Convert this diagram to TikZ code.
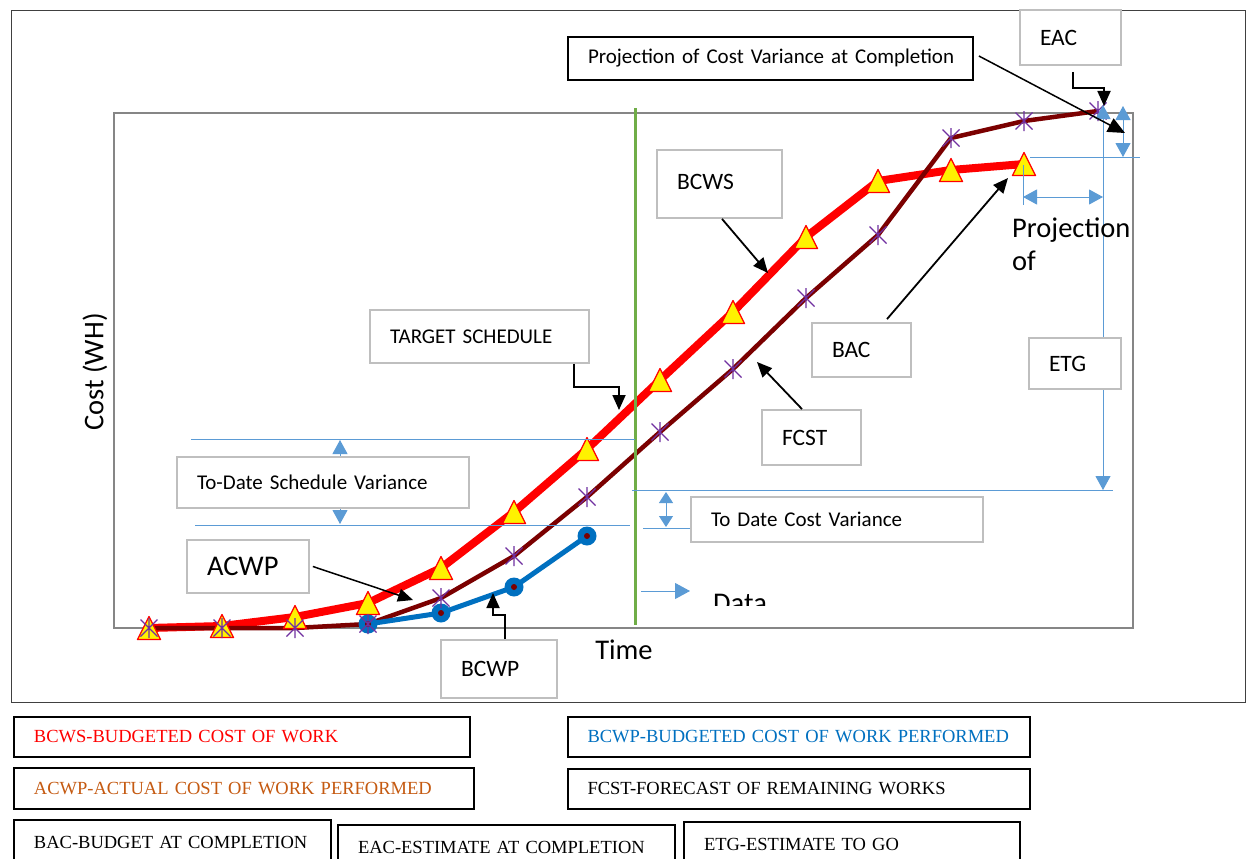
\documentclass[tikz,border=0pt]{standalone}
\usepackage{fontspec}
\setmainfont{Carlito}
\newfontfamily\legendfont{Liberation Serif}
\usetikzlibrary{arrows.meta}

\definecolor{boxgray}{HTML}{BFBFBF}
\definecolor{plotgray}{HTML}{868686}
\definecolor{framegray}{HTML}{404040}
\definecolor{dategreen}{HTML}{70AD47}
\definecolor{bcwsred}{HTML}{FF0000}
\definecolor{fcstbrown}{HTML}{7B0000}
\definecolor{bcwpblue}{HTML}{0070C0}
\definecolor{dimblue}{HTML}{5B9BD5}
\definecolor{starpurple}{HTML}{7030A0}
\definecolor{acwporange}{HTML}{C55A11}

\tikzset{
  lbl/.style={draw=boxgray, line width=1.8pt, fill=white, inner xsep=20pt, inner ysep=0pt,
    align=left, font=\fontsize{21}{25}\selectfont},
  lblbig/.style={lbl, font=\fontsize{23.5}{28}\selectfont},
  legendbox/.style={draw=black, line width=2pt, fill=white, inner xsep=20pt, inner ysep=0pt,
    align=left, font=\legendfont\fontsize{18.5}{22}\selectfont},
  callout/.style={draw=black, line width=1.8pt, -{Triangle[length=15pt,width=13pt]}},
  dim/.style={draw=dimblue, line width=1pt},
  dimarr/.style={dim, {Triangle[length=14pt,width=15pt]}-{Triangle[length=14pt,width=15pt]}},
  axislabel/.style={font=\fontsize{28.5}{33}\selectfont, inner sep=0pt},
  trimark/.pic={\filldraw[fill=yellow, draw=bcwsred, line width=1.3pt, line join=round]
    (0,-11.5) -- (-11.5,11.5) -- (11.5,11.5) -- cycle;},
  starmark/.pic={\draw[starpurple, line width=1.1pt]
    (-8.5,-8.5) -- (8.5,8.5) (-8.5,8.5) -- (8.5,-8.5) (0,-10) -- (0,10);},
  dotmark/.pic={\fill[bcwpblue] (0,0) circle (9.5); \fill[fcstbrown] (0,0) circle (3);},
}

\begin{document}
\begin{tikzpicture}[x=1pt,y=-1pt]
\useasboundingbox (0,0) rectangle (1248,859);
\fill[white] (0,0) rectangle (1248,859);

% frames
\draw[framegray, line width=1pt] (11,11) rectangle (1245,702);
\draw[plotgray, line width=2.5pt] (114,113) rectangle (1133,628);

% curves
\draw[bcwsred, line width=8pt, line join=round] plot coordinates {
  (149,628) (222,626) (295,617) (368,603) (441,568) (514,512) (587,449)
  (660,380) (733,312) (806,237) (878,181) (951,170) (1024,164)};
\draw[fcstbrown, line width=4.5pt, line join=round] plot coordinates {
  (149,628) (222,628) (295,628) (368,624) (441,598) (514,556) (587,497)
  (660,432) (733,369) (806,298) (878,235) (951,138) (1024,121) (1098,111)};
\draw[bcwpblue, line width=5pt, line join=round] plot coordinates {
  (368,624) (441,613) (514,587) (587,536)};

% data date line
\draw[dategreen, line width=3pt] (635,108) -- (635,625);

% markers
\foreach \x/\y in {149/628,222/626,295/617,368/603,441/568,514/512,587/449,
  660/380,733/312,806/237,878/181,951/170,1024/164}
  \pic at (\x,\y) {trimark};
\foreach \x/\y in {368/624,441/613,514/587,587/536}
  \pic at (\x,\y) {dotmark};
\foreach \x/\y in {149/628,222/628,295/628,368/624,441/598,514/556,587/497,
  660/432,733/369,806/298,878/235,951/138,1024/121,1098/111}
  \pic at (\x,\y) {starmark};

% dimension lines
\draw[dim] (191,439) -- (635,439);
\draw[dim] (195,525) -- (630,525);
\draw[dimarr] (340,440) -- (340,524);
\draw[dim] (632,490) -- (1113,490);
\draw[dim] (643,528) -- (691,528);
\draw[dim, {Triangle[length=11pt,width=14pt]}-{Triangle[length=11pt,width=14pt]}] (666,492) -- (666,527);
\draw[dim, -{Triangle[length=15pt,width=16pt]}] (641,591) -- (690,591);
\draw[dimarr] (1103,105) -- (1103,490);
\draw[dimarr] (1123,106) -- (1123,157);
\draw[dim] (1030,157) -- (1140,157);
\draw[dim] (1023,165) -- (1023,205);
\draw[dimarr] (1023,197) -- (1103,197);

% label boxes
\node[lbl, draw=black, minimum width=405pt, minimum height=43pt, text width=365pt] (proj) at (770.5,58.5) {\mbox{Projection of Cost Variance at Completion}};
\node[lblbig, minimum width=101pt, minimum height=55pt, text width=61pt] (eac) at (1070.5,37.5) {EAC};
\node[lblbig, minimum width=125pt, minimum height=68pt, text width=85pt] (bcws) at (719.5,184) {\raisebox{5pt}{BCWS}};
\node[lbl, minimum width=219pt, minimum height=53pt, text width=179pt] (tgt) at (479.5,336.5) {TARGET SCHEDULE};
\node[lblbig, minimum width=99pt, minimum height=54pt, text width=59pt] (bac) at (861.5,350) {BAC};
\node[lblbig, minimum width=99pt, minimum height=55pt, text width=59pt] (fcst) at (811.5,437.5) {FCST};
\node[lblbig, minimum width=92pt, minimum height=51pt, text width=52pt] (etg) at (1075,363.5) {ETG};
\node[lbl, minimum width=292pt, minimum height=51pt, text width=252pt] (sdv) at (323,482.5) {\mbox{To-Date Schedule Variance}};
\node[lbl, minimum width=292pt, minimum height=45pt, text width=252pt] (cdv) at (837,519.5) {\mbox{To Date Cost Variance}};
\node[lbl, font=\fontsize{28.5}{33}\selectfont, minimum width=122pt, minimum height=53pt, text width=82pt] (acwp) at (248,566.5) {ACWP};
\node[lblbig, minimum width=116pt, minimum height=58pt, text width=76pt] (bcwp) at (499,669) {BCWP};

% free text
\node[axislabel, rotate=90] (costlbl) at (95,372) {Cost (WH)};
\node[axislabel] (timelbl) at (624,650) {Time};
\node[axislabel, anchor=base west] (projl1) at (1012,237) {Projection};
\node[axislabel, anchor=base west] (projl2) at (1012,270) {of};
\begin{scope}
  \clip (700,575) rectangle (800,605);
  \node[axislabel, anchor=base west] (datalbl) at (713,612) {Data};
\end{scope}

% callout arrows
\coordinate (projtip) at (1125,133);
\coordinate (eacbend) at (1104,88);
\coordinate (eactip) at (1104,106);
\coordinate (bcwstip) at (768,273);
\coordinate (tgtbend) at (619,387);
\coordinate (tgttip) at (619,410);
\coordinate (bactip) at (1008,178);
\coordinate (fcsttip) at (757,362);
\coordinate (acwptip) at (413,600);
\coordinate (bcwpbend) at (493,615);
\coordinate (bcwptip) at (493,593);

\draw[callout, line width=1.5pt, -{Triangle[length=17pt,width=15pt]}] ([xshift=5pt,yshift=2.5pt]proj.east) -- (projtip);
\draw[callout] ([xshift=2.5pt,yshift=-6pt]eac.south) |- (eacbend) -- (eactip);
\draw[callout] ([xshift=2.5pt]bcws.south) -- (bcwstip);
\draw[callout] ([xshift=-16pt]tgt.south east) |- (tgtbend) -- (tgttip);
\draw[callout] ([xshift=25.5pt,yshift=3pt]bac.north) -- (bactip);
\draw[callout] ([xshift=-9.5pt]fcst.north) -- (fcsttip);
\draw[callout, line width=1.5pt] ([xshift=3pt]acwp.east) -- (acwptip);
\draw[callout] ([xshift=6pt]bcwp.north) |- (bcwpbend) -- (bcwptip);

% legend
\node[legendbox, text=bcwsred, minimum width=456pt, minimum height=40pt, text width=416pt] (lg1) at (242,737) {BCWS-BUDGETED COST OF WORK};
\node[legendbox, text=bcwpblue, minimum width=462pt, minimum height=40pt, text width=422pt] (lg2) at (798.5,737) {BCWP-BUDGETED COST OF WORK PERFORMED};
\node[legendbox, text=acwporange, minimum width=460pt, minimum height=41pt, text width=420pt] (lg3) at (244,788.5) {ACWP-ACTUAL COST OF WORK PERFORMED};
\node[legendbox, minimum width=462pt, minimum height=40pt, text width=422pt] (lg4) at (798.5,789) {FCST-FORECAST OF REMAINING WORKS};
\node[legendbox, minimum width=317pt, minimum height=44pt, text width=277pt] (lg5) at (172.5,842) {BAC-BUDGET AT COMPLETION};
\node[legendbox, minimum width=337pt, minimum height=44pt, text width=297pt] (lg6) at (506.5,847) {EAC-ESTIMATE AT COMPLETION};
\node[legendbox, minimum width=336pt, minimum height=44pt, text width=296pt] (lg7) at (852,844) {ETG-ESTIMATE TO GO};
\end{tikzpicture}
\end{document}
